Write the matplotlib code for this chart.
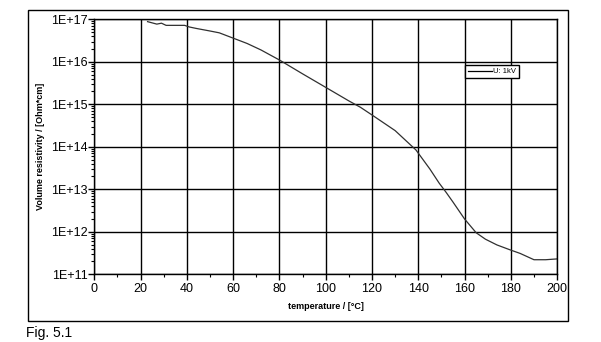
import matplotlib
matplotlib.use('Agg')
import matplotlib.pyplot as plt
from matplotlib.patches import Rectangle
from matplotlib.ticker import FixedLocator, LogLocator, NullFormatter, FuncFormatter
import numpy as np

plt.rcParams['font.family'] = ['Liberation Sans', 'DejaVu Sans']

# measured volume resistivity vs temperature
temperature = [23, 27, 29, 31, 39, 41, 44, 50, 54, 60, 66, 72, 80, 90, 100,
               110, 115, 120, 130, 139, 145, 149, 152, 155, 160, 165, 169,
               174, 180, 184, 190, 195, 200]
resistivity = [8.8e16, 7.7e16, 8.1e16, 7.2e16, 7.2e16, 6.6e16, 6.1e16, 5.3e16,
               4.8e16, 3.6e16, 2.7e16, 1.9e16, 1.1e16, 5.2e15, 2.5e15,
               1.2e15, 8.5e14, 5.6e14, 2.4e14, 8.4e13, 3.0e13, 1.4e13, 8.5e12,
               5.0e12, 2.0e12, 9.5e11, 6.7e11, 4.9e11, 3.7e11, 3.1e11, 2.2e11,
               2.2e11, 2.3e11]
series_label = 'U: 1kV'

x_ticks = list(range(0, 201, 20))
y_decades = [11, 12, 13, 14, 15, 16, 17]

fig = plt.figure(figsize=(6.01, 3.42), dpi=100)

# outer chart frame
fig.patches.append(Rectangle((0.0466, 0.0614), 0.8985, 0.909, transform=fig.transFigure,
                             fill=False, edgecolor='black', linewidth=1.0))

ax = fig.add_axes([0.157, 0.198, 0.770, 0.7456])
ax.plot(temperature, resistivity, color='#303030', linewidth=0.9, label=series_label)

ax.set_yscale('log')
ax.set_xlim(0, 200)
ax.set_ylim(1e11, 1e17)

ax.xaxis.set_major_locator(FixedLocator(x_ticks))
ax.xaxis.set_minor_locator(FixedLocator(list(range(10, 200, 20))))
ax.yaxis.set_major_locator(FixedLocator([10.0 ** d for d in y_decades]))
ax.yaxis.set_minor_locator(LogLocator(base=10, subs=np.arange(2, 10), numticks=20))
ax.yaxis.set_minor_formatter(NullFormatter())
ax.yaxis.set_major_formatter(FuncFormatter(lambda v, p: '1E+%d' % round(np.log10(v))))

ax.grid(True, which='major', color='black', linewidth=1.0)
ax.tick_params(which='major', direction='out', length=4, width=1.0, labelsize=9, pad=2)
ax.tick_params(which='minor', direction='out', length=2, width=0.8)
ax.tick_params(axis='y', pad=1)
for s in ax.spines.values():
    s.set_linewidth(1.0)

ax.set_xlabel('temperature / [\u00b0C]', fontsize=6.5, fontweight='bold', labelpad=5)
ax.set_ylabel('Volume resistivity / [Ohm*cm]', fontsize=6.5, fontweight='bold', labelpad=4)

leg = ax.legend(loc='upper left', bbox_to_anchor=(0.801, 0.82), fontsize=5.5,
                frameon=True, fancybox=False, edgecolor='black', framealpha=1,
                borderpad=0.35, handlelength=3.2, handletextpad=0.1, borderaxespad=0)
leg.get_frame().set_linewidth(1.0)
for ln in leg.get_lines():
    ln.set_color('black')

fig.text(0.043, 0.026, 'Fig. 5.1', fontsize=10, ha='left', va='center')

fig.savefig('out.png', dpi=100)
